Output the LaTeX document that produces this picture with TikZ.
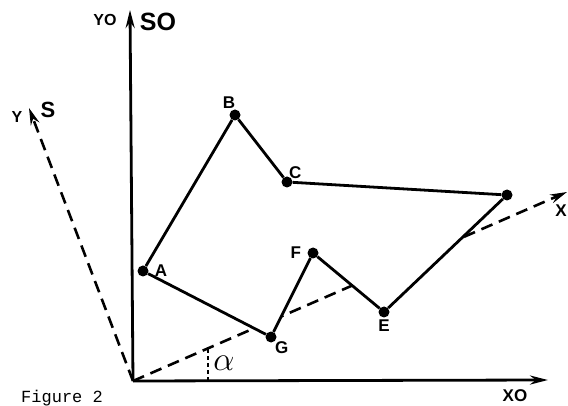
\documentclass[tikz,border=0pt]{standalone}
\usepackage{fontspec}
\setmainfont{Liberation Sans}
\newfontfamily\capfont{Liberation Mono}
\usetikzlibrary{arrows.meta,positioning,backgrounds}

\begin{document}
\begin{tikzpicture}[x=1pt, y=-1pt,
  axis/.style={line width=2.8pt, -{Stealth[length=18pt, width=9pt]}},
  daxis/.style={line width=2.6pt, dash pattern=on 12pt off 7pt, -{Stealth[length=17pt, width=9pt]}},
  edge/.style={line width=2.8pt, line join=round},
  dot/.style={circle, fill=black, inner sep=0pt, minimum size=11pt},
  lbl/.style={font=\bfseries\fontsize{17}{17}\selectfont, inner sep=1pt},
  sys/.style={font=\bfseries\fontsize{25}{25}\selectfont, inner sep=0pt}
]
  \useasboundingbox (0,0) rectangle (568,406);

  \coordinate (O) at (133,381);
  \coordinate (Y0tip) at (130,10);
  \coordinate (X0tip) at (548,380);
  \coordinate (Xtip) at (567,192);
  \coordinate (Ytip) at (29,108);

  \node[dot] (A) at (143,271) {};
  \node[dot] (B) at (235,115) {};
  \node[dot] (C) at (287,182) {};
  \node[dot] (D) at (507,195) {};
  \node[dot] (E) at (384,312) {};
  \node[dot] (F) at (313,253) {};
  \node[dot] (G) at (271,337) {};

  % rotated axis runs under the plate
  \begin{scope}[on background layer]
    \draw[daxis] (O) -- (Xtip);
    \fill[white] (A.center) -- (B.center) -- (C.center) -- (D.center)
      -- (E.center) -- (F.center) -- (G.center) -- cycle;
  \end{scope}

  \draw[daxis] (O) -- (Ytip);
  \draw[axis] (O) -- (Y0tip);
  \draw[axis] (O) -- (X0tip);

  \draw[edge] (A) -- (B) -- (C) -- (D) -- (E) -- (F) -- (G) -- (A);

  \coordinate (Ttop) at (208,349);
  \coordinate (Tbot) at (208,381);
  \draw[line width=1.8pt, dash pattern=on 4pt off 3pt] (Ttop) -- (Tbot);
  \node[font=\fontsize{24}{24}\selectfont, scale=1.35, inner sep=0pt] (alpha) at (224,363) {$\alpha$};

  \node[lbl, above=0pt of B, xshift=-6pt] (lB) {B};
  \node[lbl, above right=-2pt and -3pt of C] (lC) {C};
  \node[lbl, right=5pt of A] (lA) {A};
  \node[lbl, left=5pt of F] (lF) {F};
  \node[lbl, below right=-1pt and -1pt of G] (lG) {G};
  \node[lbl, below=1pt of E] (lE) {E};

  \node[lbl, font=\bfseries\fontsize{16}{16}\selectfont] (lY0) at (105,20) {YO};
  \node[sys] (lS0) at (158,22) {SO};
  \node[lbl, font=\bfseries\fontsize{16}{16}\selectfont] (lY) at (17,117) {Y};
  \node[sys, font=\bfseries\fontsize{22}{22}\selectfont] (lS) at (48,110) {S};
  \node[lbl] (lX) at (561,211) {X};
  \node[lbl] (lX0) at (515,396) {XO};

  \node[font=\capfont\fontsize{17}{17}\selectfont, anchor=base west, inner sep=0pt] (fig) at (21,402) {Figure 2};
\end{tikzpicture}
\end{document}
